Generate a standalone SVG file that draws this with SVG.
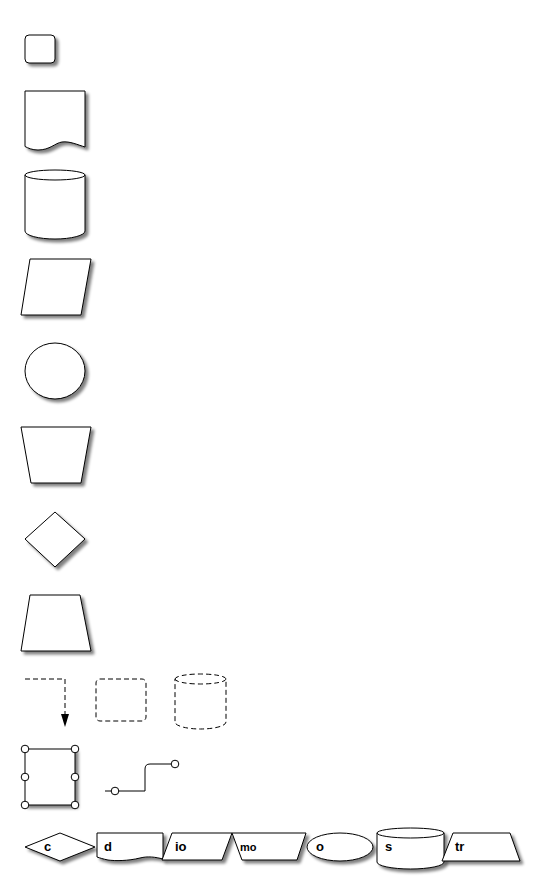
<svg xmlns="http://www.w3.org/2000/svg" width="540" height="896" viewBox="0 0 540 896">
<defs>
<filter id="sh" x="-20%" y="-20%" width="150%" height="150%">
<feGaussianBlur in="SourceAlpha" stdDeviation="1.5"/>
<feOffset dx="3" dy="3" result="b"/>
<feComponentTransfer><feFuncA type="linear" slope="0.5"/></feComponentTransfer>
<feMerge><feMergeNode/><feMergeNode in="SourceGraphic"/></feMerge>
</filter>
</defs>
<style>
.s{fill:#fff;stroke:#000;stroke-width:1;filter:url(#sh)}
.ln{fill:none;stroke:#000;stroke-width:1}
.d{fill:#fff;stroke:#000;stroke-width:1;stroke-dasharray:5,3}
.h{fill:#fff;stroke:#000;stroke-width:1}
.t{font-family:"Liberation Sans",Arial,sans-serif;font-weight:bold;font-size:13px;fill:#000}
</style>
<rect width="540" height="896" fill="#fff"/>
<g id="rounded"><rect class="s" x="25" y="35" width="30" height="28" rx="4"/></g>
<g id="document"><path class="s" d="M25,91 H85 V147 C78,145 70,141 62,142 C55,143 50,150 38,150 C32,150 28,148 25,146.5 Z"/></g>
<g id="cylinder"><path class="s" d="M25,175 A30,5 0 0 1 85,175 V231 A30,8 0 0 1 25,231 Z"/><path class="ln" d="M25,175 A30,5 0 0 0 85,175"/></g>
<g id="parallelogram"><path class="s" d="M30,259 H91 L81,315 H21 Z"/></g>
<g id="circle"><ellipse class="s" cx="55" cy="371" rx="30" ry="28"/></g>
<g id="manualop"><path class="s" d="M21,427 H91 L81,483 H31 Z"/></g>
<g id="decision"><path class="s" d="M55,512 L85,539 L55,567 L25,539 Z"/></g>
<g id="trapezoid"><path class="s" d="M30,595 H80 L91,651 H21 Z"/></g>
<g id="connectors">
<path class="ln" d="M25,679 H65 V714" stroke-dasharray="5,3"/>
<path d="M61,714 H69 L65,727 Z" fill="#000"/>
<path class="ln" d="M105,791 H145 V769 Q145,764 150,764 H175"/>
<circle class="h" cx="115" cy="791" r="3.8"/>
<circle class="h" cx="175" cy="764" r="3.8"/>
</g>
<g id="dashed-rect"><rect class="d" x="96" y="679" width="50" height="42" rx="4"/></g>
<g id="dashed-cylinder"><path class="d" d="M175,679 A25.5,5 0 0 1 226,679 V722 A25.5,7 0 0 1 175,722 Z"/><path class="d" fill="none" d="M175,679 A25.5,5 0 0 0 226,679"/></g>
<g id="selected"><rect class="s" x="25" y="749" width="50" height="56"/>
<circle class="h" cx="25" cy="749" r="3.8"/><circle class="h" cx="75" cy="749" r="3.8"/>
<circle class="h" cx="25" cy="777" r="3.8"/><circle class="h" cx="75" cy="777" r="3.8"/>
<circle class="h" cx="25" cy="805" r="3.8"/><circle class="h" cx="75" cy="805" r="3.8"/></g>
<g id="c"><path class="s" d="M60,833 L95,847 L60,861 L25,847 Z"/><text class="t" x="44" y="851">c</text></g>
<g id="d"><path class="s" d="M97,833 H163 V859 C155,857 148,856 140,858 C128,861 115,861 108,860 C103,859 100,858 97,857 Z"/><text class="t" x="104" y="851">d</text></g>
<g id="io"><path class="s" d="M172,833 H232 L222,860 H162 Z"/><text class="t" x="175" y="851">io</text></g>
<g id="mo"><path class="s" d="M232,833 H306 L297,860 H242 Z"/><text class="t" x="240" y="851" style="font-size:11px">mo</text></g>
<g id="o"><ellipse class="s" cx="340" cy="847" rx="33" ry="14"/><text class="t" x="316" y="851">o</text></g>
<g id="s"><path class="s" d="M377,833 A33.5,5 0 0 1 444,833 V862 A33.5,7 0 0 1 377,862 Z"/><path class="ln" d="M377,833 A33.5,5 0 0 0 444,833"/><text class="t" x="385" y="851">s</text></g>
<g id="tr"><path class="s" d="M453,833 H510 L520,861 H442 Z"/><text class="t" x="455" y="851">tr</text></g>
</svg>
